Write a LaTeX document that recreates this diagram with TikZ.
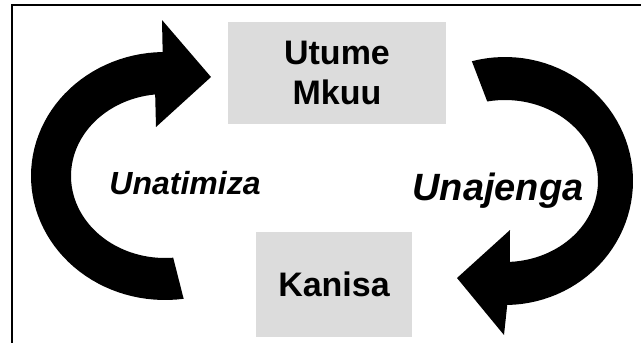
\documentclass[tikz,border=0pt]{standalone}
\usepackage{fontspec}
\setmainfont{Liberation Sans}
\usetikzlibrary{positioning}
\definecolor{BoxGray}{HTML}{DCDCDC}

\begin{document}
\begin{tikzpicture}[x=1pt,y=-1pt,
        every node/.style={align=center,inner sep=0pt},
        box/.style={fill=BoxGray,font=\fontsize{34}{40}\selectfont\bfseries},
        verb/.style={anchor=base,font=\bfseries\itshape}
    ]
    \useasboundingbox (0,0) rectangle (641,343);
    \clip (0,0) rectangle (641,343);
    \draw[line width=2pt] (12,360) -- (12,5) -- (660,5);

    \node at (337,73) [box,minimum width=218pt,minimum height=102pt] (utume) {Utume\\Mkuu};
    \node at (334,284.5) [box,minimum width=156pt,minimum height=105pt] (kanisa) {Kanisa};

    % left arrow, up to Utume Mkuu
    \fill plot[domain=82:269,samples=60] ({165+134*cos(\x)},{176+124*sin(\x)})
        -- (162,20) -- (211,77) -- (156,127)
        -- plot[domain=264:85,samples=60] ({165+94*cos(\x)},{176+82*sin(\x)}) -- cycle;
    \node at (185,194) [verb,font=\fontsize{32}{38}\selectfont\bfseries\itshape] (unatimiza) {Unatimiza};

    % right arrow, down to Kanisa
    \fill plot[domain=-105:89,samples=60] ({505+128*cos(\x)},{181+124*sin(\x)})
        -- (504,335) -- (457,278) -- (510,230)
        -- plot[domain=87:-101,samples=60] ({505+93*cos(\x)},{181+81*sin(\x)}) -- cycle;
    \node at (498,200) [verb,font=\fontsize{38}{45}\selectfont\bfseries\itshape] (unajenga) {Unajenga};
\end{tikzpicture}
\end{document}
